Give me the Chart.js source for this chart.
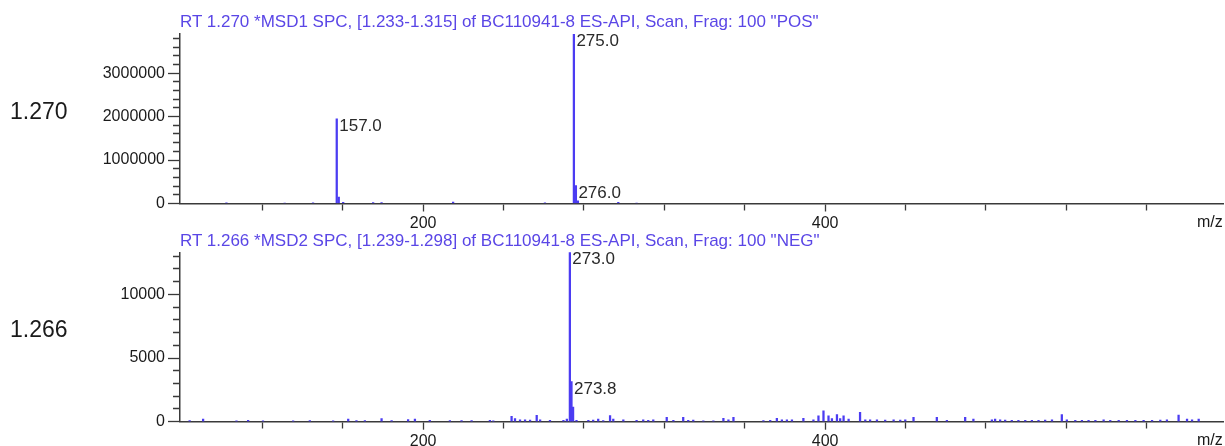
<!DOCTYPE html>
<html>
<head>
<meta charset="utf-8">
<script src="https://cdn.jsdelivr.net/npm/chart.js@4.4.1/dist/chart.umd.min.js"></script>
<style>
  html, body { margin: 0; padding: 0; background: #fff; }
  body { width: 1225px; height: 446px; position: relative; overflow: hidden; font-family: "Liberation Sans", Arial, sans-serif; }
  canvas { position: absolute; left: 0; }
  .t { position: absolute; line-height: 1; white-space: nowrap; }
  .title { font-size: 17px; color: #5a46e6; left: 180px; }
  .rt { font-size: 23px; color: #1a1a1a; left: 10px; }
  .mz { font-size: 16px; color: #1a1a1a; left: 1197px; }
</style>
</head>
<body>
<canvas id="c1" width="1225" height="232" style="top:0px"></canvas>
<canvas id="c2" width="1225" height="214" style="top:232px"></canvas>
<div class="t title" style="top:12.5px">RT 1.270 *MSD1 SPC, [1.233-1.315] of BC110941-8 ES-API, Scan, Frag: 100 "POS"</div>
<div class="t title" style="top:232px">RT 1.266 *MSD2 SPC, [1.239-1.298] of BC110941-8 ES-API, Scan, Frag: 100 "NEG"</div>
<div class="t rt" style="top:100px">1.270</div>
<div class="t rt" style="top:318px">1.266</div>
<div class="t mz" style="top:214px">m/z</div>
<div class="t mz" style="top:432px">m/z</div>
<script>
// ---- data ----
const xMin = 79, xMax = 598;
const xTicks = [120, 160, 200, 240, 280, 320, 360, 400, 440, 480, 520, 560];
const xTickLabels = [200, 400];

// Top panel: positive scan
const posMz  = [102.1, 131.1, 145.2, 157.0, 158.0, 160.2, 175.1, 179.3, 214.9, 260.6, 275.0, 276.0, 277.0, 297.1, 306.2];
const posInt = [15000, 12000, 15000, 1950000, 150000, 25000, 20000, 20000, 30000, 15000, 3900000, 410000, 60000, 25000, 12000];
const posYMax = 3900000;
const posYTicks = [0, 200000, 400000, 600000, 800000, 1000000, 1200000, 1400000, 1600000, 1800000, 2000000,
  2200000, 2400000, 2600000, 2800000, 3000000, 3200000, 3400000, 3600000, 3800000];
const posYTickLabels = [0, 1000000, 2000000, 3000000];
const posLabels = ["157.0", "275.0", "276.0"];
const posLabelMz = [157.0, 275.0, 276.0];

// Bottom panel: negative scan
const negMz = [83.8, 90.5, 107.1, 112.9, 120.3, 135.3, 143.6, 155.2, 162.7, 166.8, 171.0, 179.3, 184.3, 192.5, 195.9, 203.3,
  213.3, 219.1, 224.1, 233.2, 234.9, 244.0, 245.7, 248.2, 250.7, 253.2, 256.5, 258.2, 263.1, 269.8, 271.5,
  273.0, 273.8, 274.6,
  276.3, 282.2, 284.6, 287.1, 289.6, 293.0, 294.6, 299.6, 306.2, 309.5, 312.0, 314.5, 321.2, 324.5, 329.4, 331.9, 334.4,
  339.4, 344.4, 349.4, 351.9, 354.4, 369.3, 372.7, 376.0, 378.5, 381.0, 383.5, 389.2, 394.2, 396.7, 399.2, 401.7, 403.4,
  405.9, 407.5, 409.2, 411.7, 417.4, 420.0, 422.4, 425.8, 429.9, 434.1, 437.4, 439.9, 444.0, 455.6, 460.6,
  469.7, 473.8, 483.0, 484.6, 487.1, 489.6, 492.9, 496.2, 499.6, 502.9, 506.2, 509.5, 512.9, 517.8, 520.3, 524.5,
  527.8, 531.1, 534.5, 538.6, 541.9, 546.1, 550.2, 554.4, 558.5, 562.7, 566.8, 570.1, 575.9, 580.1, 582.6, 585.9];
const negInt = [80, 200, 60, 100, 60, 60, 80, 60, 200, 80, 80, 250, 80, 160, 200, 100,
  80, 80, 80, 100, 60, 420, 250, 150, 150, 120, 500, 150, 100, 100, 200,
  13300, 3150, 1150,
  100, 100, 120, 200, 80, 480, 200, 150, 100, 150, 100, 150, 350, 100, 350, 100, 120,
  60, 60, 260, 150, 340, 80, 100, 260, 150, 150, 150, 260, 150, 470, 860, 470, 250,
  550, 250, 470, 200, 730, 150, 150, 150, 120, 150, 120, 150, 340, 340, 100,
  340, 200, 150, 200, 150, 120, 100, 100, 100, 100, 100, 120, 150, 550, 150, 100,
  100, 100, 100, 150, 100, 100, 100, 100, 100, 100, 120, 150, 520, 200, 150, 200];
const negYMax = 13300;
const negYTicks = [0, 1000, 2000, 3000, 4000, 5000, 6000, 7000, 8000, 9000, 10000, 11000, 12000, 13000];
const negYTickLabels = [0, 5000, 10000];
const negLabels = ["273.0", "273.8"];
const negLabelMz = [273.0, 273.8];

// ---- styling ----
const BAR = '#4b3cf2';
const AXIS = '#3a3a3a';
const TXT = '#1a1a1a';
const FONT = '"Liberation Sans", Arial, sans-serif';

const peakLabelPlugin = {
  id: 'peakLabels',
  afterDatasetsDraw(chart, args, opts) {
    const { ctx, scales } = chart;
    ctx.save();
    ctx.font = '17px ' + FONT;
    ctx.fillStyle = '#2a2a2a';
    ctx.textBaseline = 'top';
    ctx.textAlign = 'left';
    opts.texts.forEach((t, i) => {
      const mz = opts.mz[i];
      const idx = opts.allMz.indexOf(mz);
      const px = scales.x.getPixelForValue(mz);
      const py = scales.y.getPixelForValue(opts.allInt[idx]);
      ctx.fillText(t, px + 2.5, py - 1);
    });
    ctx.restore();
  }
};

function makeChart(id, mz, ints, yMax, yTicks, yLabels, topPad, xAxisH, labels, labelMz) {
  return new Chart(document.getElementById(id), {
    type: 'bar',
    data: {
      datasets: [{
        data: mz.map((m, i) => ({ x: m, y: ints[i] })),
        backgroundColor: BAR,
        borderWidth: 0,
        barThickness: 1.6,
        grouped: false
      }]
    },
    options: {
      responsive: false,
      animation: false,
      devicePixelRatio: 1,
      layout: { padding: { top: topPad, left: 0, right: 2, bottom: 0 } },
      plugins: {
        legend: { display: false },
        tooltip: { enabled: false },
        peakLabels: { texts: labels, mz: labelMz, allMz: mz, allInt: ints }
      },
      scales: {
        x: {
          type: 'linear',
          min: xMin, max: xMax,
          offset: false,
          afterFit: s => { s.height = xAxisH; },
          afterBuildTicks: s => { s.ticks = xTicks.map(v => ({ value: v })); },
          border: { color: AXIS, width: 1.5 },
          grid: {
            offset: false,
            drawOnChartArea: false,
            tickLength: 8,
            tickColor: AXIS,
            tickWidth: 1.3,
            tickBorderDash: ctx => (ctx.tick && xTickLabels.includes(ctx.tick.value)) ? [] : [6, 100]
          },
          ticks: {
            maxRotation: 0,
            autoSkip: false,
            padding: 2,
            color: TXT,
            font: { family: FONT, size: 16 },
            callback: v => (xTickLabels.includes(v) ? String(v) : '')
          }
        },
        y: {
          type: 'linear',
          min: 0, max: yMax,
          afterFit: s => { s.width = 180; },
          afterBuildTicks: s => { s.ticks = yTicks.map(v => ({ value: v })); },
          border: { color: AXIS, width: 1.5 },
          grid: {
            drawOnChartArea: false,
            tickLength: 12,
            tickColor: AXIS,
            tickWidth: 1.3,
            tickBorderDash: ctx => (ctx.tick && yLabels.includes(ctx.tick.value)) ? [] : [0, 5, 7, 100]
          },
          ticks: {
            autoSkip: false,
            padding: 3,
            color: TXT,
            font: { family: FONT, size: 16 },
            callback: v => (yLabels.includes(v) ? String(v) : '')
          }
        }
      }
    },
    plugins: [peakLabelPlugin]
  });
}

makeChart('c1', posMz, posInt, posYMax, posYTicks, posYTickLabels, 34, 28.5, posLabels, posLabelMz);
makeChart('c2', negMz, negInt, negYMax, negYTicks, negYTickLabels, 20.3, 24.3, negLabels, negLabelMz);
</script>
</body>
</html>
